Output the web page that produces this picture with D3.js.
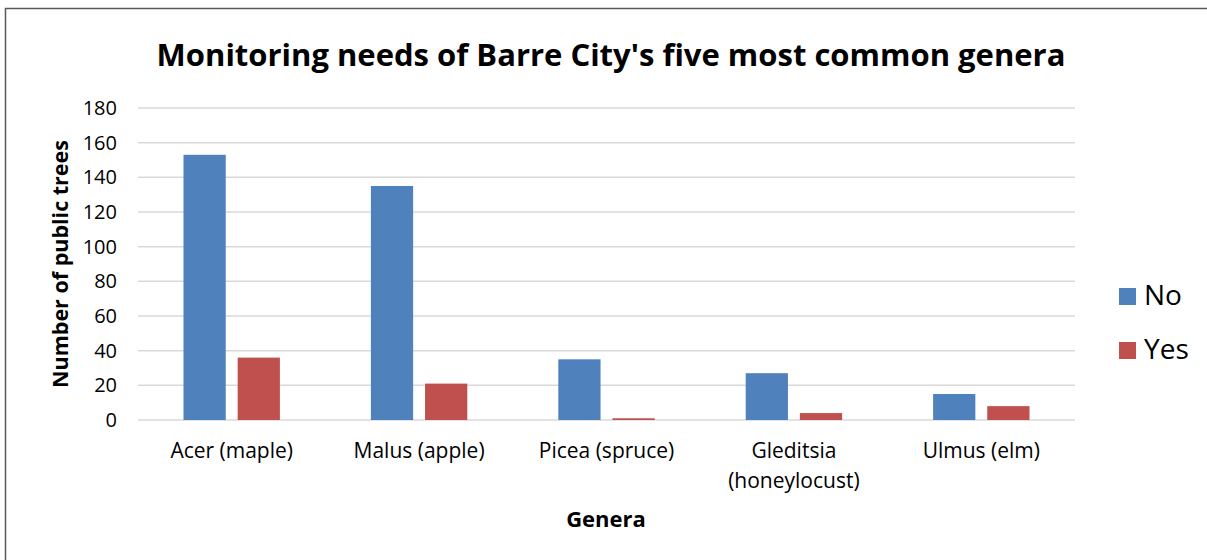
<!DOCTYPE html>
<html>
<head>
<meta charset="utf-8">
<script src="https://cdn.jsdelivr.net/npm/d3@7"></script>
<style>
  body { margin: 0; background: #fff; }
  svg { display: block; font-family: "Open Sans", sans-serif; }
</style>
</head>
<body>
<svg id="chart"></svg>
<script>
// chart data
const genera = ["Acer (maple)", "Malus (apple)", "Picea (spruce)", "Gleditsia (honeylocust)", "Ulmus (elm)"];
const genusLines = [["Acer (maple)"], ["Malus (apple)"], ["Picea (spruce)"], ["Gleditsia", "(honeylocust)"], ["Ulmus (elm)"]];
const seriesNames = ["No", "Yes"];
const noValues = [153, 135, 35, 27, 15];
const yesValues = [36, 21, 1, 4, 8];
const yTicks = [0, 20, 40, 60, 80, 100, 120, 140, 160, 180];
const colors = ["#4F81BD", "#C0504D"];

const width = 1207, height = 560;
const svg = d3.select("#chart").attr("width", width).attr("height", height);

// outer frame (only top and left edges are inside the picture)
svg.append("rect")
    .attr("x", 5.5).attr("y", 8.5)
    .attr("width", width + 20).attr("height", height + 20)
    .attr("fill", "none").attr("stroke", "#595959").attr("stroke-width", 1.5);

const plot = { left: 138, right: 1075, top: 108, bottom: 420 };

const x = d3.scaleBand().domain(genera).range([plot.left, plot.right]).paddingInner(0).paddingOuter(0);
const x1 = d3.scaleBand().domain(seriesNames).range([45.5, x.bandwidth() - 45.5]).paddingInner(0.22);
const y = d3.scaleLinear().domain([0, 180]).range([plot.bottom, plot.top]);

// gridlines
svg.append("g")
    .selectAll("line")
    .data(yTicks)
    .join("line")
    .attr("x1", plot.left).attr("x2", plot.right)
    .attr("y1", d => y(d)).attr("y2", d => y(d))
    .attr("stroke", "#D9D9D9").attr("stroke-width", 1.5);

// y axis labels
const yAxis = svg.append("g")
    .attr("transform", `translate(${plot.left},0)`)
    .call(d3.axisLeft(y).tickValues(yTicks).tickSize(0).tickPadding(21));
yAxis.select(".domain").remove();
yAxis.selectAll("text").attr("font-size", 20).attr("fill", "#000").attr("font-family", "'Open Sans', sans-serif");

// bars
const rows = genera.map((g, i) => ({ genus: g, values: [noValues[i], yesValues[i]] }));
svg.append("g")
    .selectAll("g")
    .data(rows)
    .join("g")
    .attr("transform", d => `translate(${x(d.genus)},0)`)
    .selectAll("rect")
    .data(d => d.values.map((v, k) => ({ key: seriesNames[k], value: v, k: k })))
    .join("rect")
    .attr("x", d => x1(d.key))
    .attr("width", x1.bandwidth())
    .attr("y", d => y(d.value))
    .attr("height", d => y(0) - y(d.value))
    .attr("fill", d => colors[d.k]);

// x labels
svg.append("g")
    .selectAll("text")
    .data(genera)
    .join("text")
    .attr("x", d => x(d) + x.bandwidth() / 2)
    .attr("y", 458)
    .attr("text-anchor", "middle")
    .attr("font-size", 21)
    .selectAll("tspan")
    .data((d, i) => genusLines[i])
    .join("tspan")
    .attr("x", function () { return d3.select(this.parentNode).attr("x"); })
    .attr("dy", (d, i) => i === 0 ? 0 : 30)
    .text(d => d);

// title
svg.append("text")
    .attr("x", 611).attr("y", 66)
    .attr("text-anchor", "middle")
    .attr("font-size", 31).attr("font-weight", "bold")
    .text("Monitoring needs of Barre City's five most common genera");

// axis titles
svg.append("text")
    .attr("x", 606).attr("y", 527)
    .attr("text-anchor", "middle")
    .attr("font-size", 22).attr("font-weight", "bold")
    .text("Genera");

svg.append("text")
    .attr("transform", "translate(68,264) rotate(-90)")
    .attr("text-anchor", "middle")
    .attr("font-size", 21.5).attr("font-weight", "bold")
    .text("Number of public trees");

// legend
const legend = svg.append("g")
    .selectAll("g")
    .data(seriesNames)
    .join("g")
    .attr("transform", (d, i) => `translate(1119,${288 + i * 54})`);
legend.append("rect")
    .attr("width", 17).attr("height", 17)
    .attr("fill", (d, i) => colors[i]);
legend.append("text")
    .attr("x", 25).attr("y", 17)
    .attr("font-size", 28)
    .text(d => d);
</script>
</body>
</html>
